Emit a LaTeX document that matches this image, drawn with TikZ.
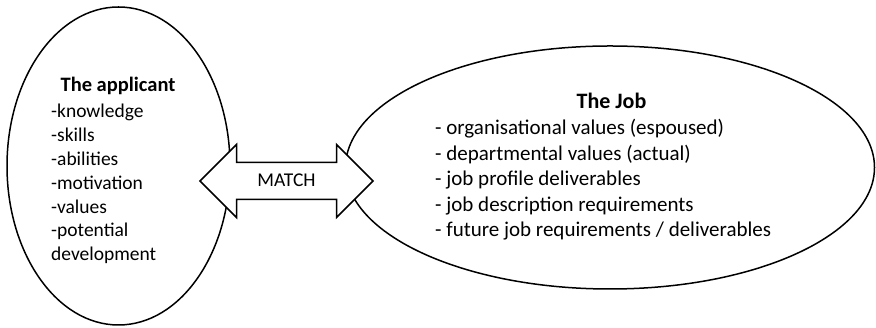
\documentclass[tikz,border=0pt]{standalone}
\usepackage{fontspec}
\setmainfont{Carlito}
\begin{document}
\begin{tikzpicture}[x=1pt,y=1pt,
  outline/.style={draw=black,line width=1.5pt},
  lefttext/.style={font=\fontsize{19.5}{24}\selectfont,inner sep=0pt},
  righttext/.style={font=\fontsize{21}{25.6}\selectfont,inner sep=0pt}]
\useasboundingbox (0,0) rectangle (876,328);
% ellipses
\draw[outline] (118.5,162) ellipse [x radius=111.5, y radius=159];
\draw[outline] (610,160.5) ellipse [x radius=264.5, y radius=121.5];
% double block arrow
\draw[outline,fill=white,line join=miter]
  (200,147) -- (236.5,183.5) -- (236.5,165.5) -- (336.5,165.5) -- (336.5,183.5)
  -- (373,147) -- (336.5,110.5) -- (336.5,128.5) -- (236.5,128.5) -- (236.5,110.5) -- cycle;
\node[lefttext,anchor=center] (match) at (286.5,148) {MATCH};
% applicant
\node[lefttext,anchor=base,font=\fontsize{20.5}{24}\selectfont\bfseries] (apphead) at (118,236) {The applicant};
\foreach \t [count=\i] in {-knowledge,-skills,-abilities,-motivation,-values,-potential,development}
  \node[lefttext,anchor=base west] (app\i) at (51,{210.5-(\i-1)*23.9}) {\t};
% job
\node[righttext,anchor=base,font=\fontsize{22}{25.6}\selectfont\bfseries] (jobhead) at (611.5,219.5) {The Job};
\foreach \t [count=\i] in {- organisational values (espoused),- departmental values (actual),- job profile deliverables,- job description requirements,- future job requirements / deliverables}
  \node[righttext,anchor=base west] (job\i) at (435,{193.5-(\i-1)*25.6}) {\t};
\end{tikzpicture}
\end{document}
